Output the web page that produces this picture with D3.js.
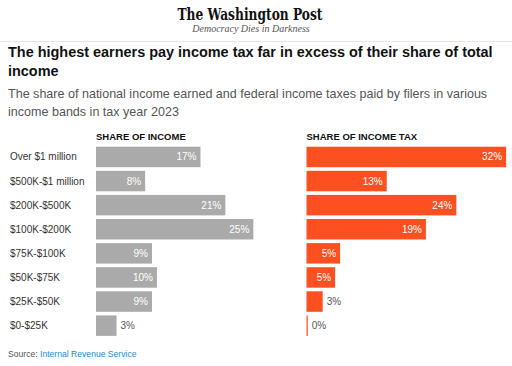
<!DOCTYPE html>
<html>
<head>
<meta charset="utf-8">
<script src="https://cdn.jsdelivr.net/npm/d3@7"></script>
<style>
  body { margin: 0; background: #fff; }
  svg { display: block; }
</style>
</head>
<body>
<div id="chart"></div>
<script>
// income bands, top to bottom
const bands = ["Over $1 million", "$500K-$1 million", "$200K-$500K", "$100K-$200K",
               "$75K-$100K", "$50K-$75K", "$25K-$50K", "$0-$25K"]
// share of national income (%)
const incomeShare = [16.8, 7.9, 20.8, 25.3, 9.0, 9.8, 9.0, 3.3]
// share of federal income tax paid (%)
const taxShare = [32.1, 12.9, 24.1, 19.2, 5.4, 4.6, 2.6, 0.2]

const panels = [
    {title: "SHARE OF INCOME", values: incomeShare, x0: 96, color: "#aaaaaa"},
    {title: "SHARE OF INCOME TAX", values: taxShare, x0: 306.5, color: "#fd4f1f"}
]

const width = 512, height = 366
const font = "'Liberation Sans', Arial, sans-serif"

const svg = d3.select("#chart")
    .append("svg")
    .attr("width", width)
    .attr("height", height)

// masthead
svg.append("text")
    .attr("x", 250).attr("y", 20)
    .attr("text-anchor", "middle")
    .attr("font-family", "'DejaVu Serif', serif")
    .attr("font-weight", "bold")
    .attr("font-size", 17.5)
    .attr("textLength", 145)
    .attr("lengthAdjust", "spacingAndGlyphs")
    .attr("fill", "#111")
    .text("The Washington Post")

svg.append("text")
    .attr("x", 251).attr("y", 32)
    .attr("text-anchor", "middle")
    .attr("font-family", "'Liberation Serif', serif")
    .attr("font-style", "italic")
    .attr("font-size", 10)
    .attr("fill", "#555")
    .text("Democracy Dies in Darkness")

svg.append("line")
    .attr("x1", 0).attr("x2", width)
    .attr("y1", 41.5).attr("y2", 41.5)
    .attr("stroke", "#e6e6e6")

// title + subtitle
const titleLines = ["The highest earners pay income tax far in excess of their share of total", "income"]
svg.selectAll(".title")
    .data(titleLines)
    .enter()
    .append("text")
    .attr("class", "title")
    .attr("x", 8)
    .attr("y", (d, i) => 57 + i * 19)
    .attr("font-family", font)
    .attr("font-weight", "bold")
    .attr("font-size", 14.5)
    .attr("fill", "#111")
    .text(d => d)

const subLines = ["The share of national income earned and federal income taxes paid by filers in various", "income bands in tax year 2023"]
svg.selectAll(".sub")
    .data(subLines)
    .enter()
    .append("text")
    .attr("class", "sub")
    .attr("x", 8)
    .attr("y", (d, i) => 98 + i * 18)
    .attr("font-family", font)
    .attr("font-size", 12)
    .attr("fill", "#555")
    .text(d => d)

// size a block of lines so its first line spans the measured width
function fitWidth(sel, w) {
    const first = sel.filter((d, i) => i === 0).node()
    const fs = +d3.select(first).attr("font-size")
    const size = fs * w / first.getComputedTextLength()
    sel.attr("font-size", size)
}
fitWidth(svg.selectAll(".title"), 485)
fitWidth(svg.selectAll(".sub"), 480)

// scales
const y = d3.scaleBand()
    .domain(bands)
    .range([144.9, 144.9 + 8 * 24.1])
    .paddingInner(0.15)
    .paddingOuter(0.075)

const x = d3.scaleLinear()
    .domain([0, 32])
    .range([0, 199])

const fmt = d3.format(".0f")

// category labels
svg.append("g")
    .selectAll("text")
    .data(bands)
    .enter()
    .append("text")
    .attr("x", 10)
    .attr("y", d => y(d) + y.bandwidth() / 2)
    .attr("dy", "0.35em")
    .attr("font-family", font)
    .attr("font-size", 10)
    .attr("fill", "#333")
    .text(d => d)

panels.forEach(p => {
    const g = svg.append("g").attr("transform", `translate(${p.x0},0)`)

    g.append("text")
        .attr("x", 0).attr("y", 140)
        .attr("font-family", font)
        .attr("font-weight", "bold")
        .attr("font-size", 9.5)
        .attr("fill", "#111")
        .text(p.title)

    const rows = g.selectAll(".row")
        .data(p.values.map((v, i) => ({band: bands[i], value: v})))
        .enter()
        .append("g")
        .attr("class", "row")

    rows.append("rect")
        .attr("x", 0)
        .attr("y", d => y(d.band))
        .attr("width", d => Math.max(1, x(d.value)))
        .attr("height", y.bandwidth())
        .attr("fill", p.color)

    rows.append("text")
        .attr("x", d => x(d.value) > 22 ? x(d.value) - 4 : Math.max(1, x(d.value)) + 4)
        .attr("y", d => y(d.band) + y.bandwidth() / 2)
        .attr("dy", "0.35em")
        .attr("text-anchor", d => x(d.value) > 22 ? "end" : "start")
        .attr("font-family", font)
        .attr("font-size", 10)
        .attr("fill", d => x(d.value) > 22 ? "#fff" : "#555")
        .text(d => fmt(d.value) + "%")
})

// source line
const src = svg.append("text")
    .attr("x", 8).attr("y", 357)
    .attr("font-family", font)
    .attr("font-size", 8.6)
    .attr("fill", "#555")
src.append("tspan").text("Source: ")
src.append("tspan").attr("fill", "#1a8ad4").text("Internal Revenue Service")
</script>
</body>
</html>
